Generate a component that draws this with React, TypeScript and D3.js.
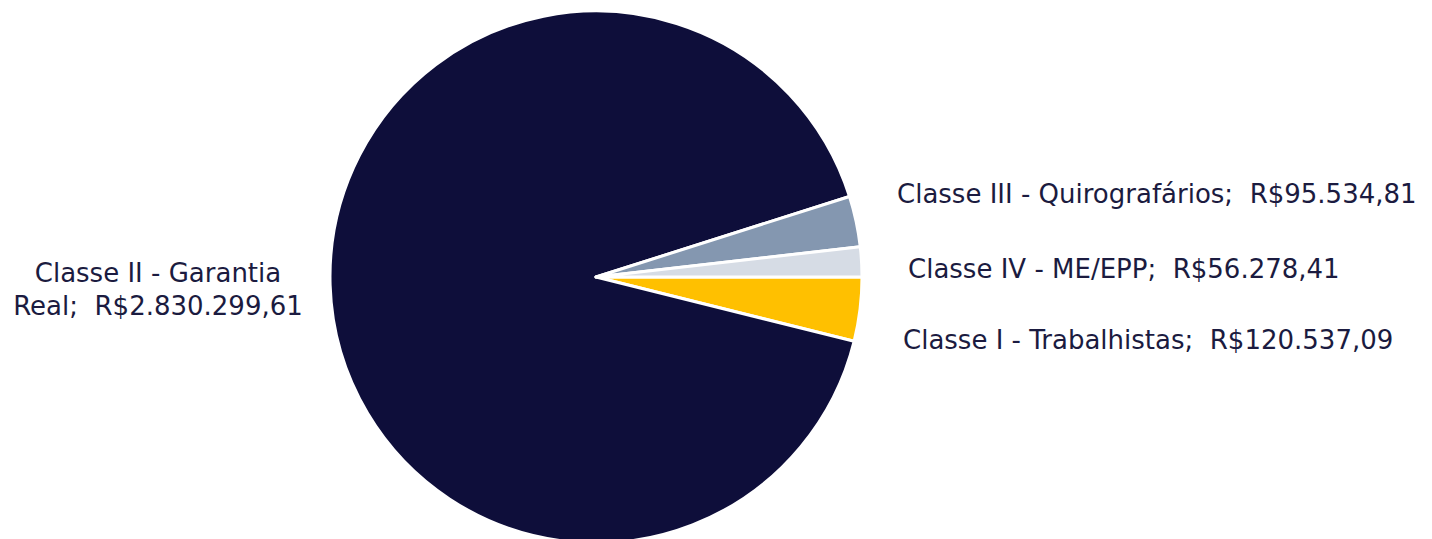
import * as React from 'react';
import * as d3 from 'd3';

const categories = [
  'Classe I - Trabalhistas',
  'Classe II - Garantia Real',
  'Classe III - Quirografários',
  'Classe IV - ME/EPP',
];
const values = [120537.09, 2830299.61, 95534.81, 56278.41];
const valueLabels = ['R$120.537,09', 'R$2.830.299,61', 'R$95.534,81', 'R$56.278,41'];
const colors = ['#FFC000', '#0E0E3A', '#8497B0', '#D6DCE5'];

// label lines: [text lines], x anchor, first baseline, anchor
const labelLayout = [
  { lines: [`${categories[0]};  ${valueLabels[0]}`], x: 903, y: 349, anchor: 'start' },
  { lines: ['Classe II - Garantia', `Real;  ${valueLabels[1]}`], x: 158, y: 282, anchor: 'middle' },
  { lines: [`${categories[2]};  ${valueLabels[2]}`], x: 897, y: 203, anchor: 'start' },
  { lines: [`${categories[3]};  ${valueLabels[3]}`], x: 908, y: 278, anchor: 'start' },
];

export default function App() {
  const width = 1432;
  const height = 539;
  const cx = 596;
  const cy = 277;
  const radius = 266;

  const pie = d3
    .pie<number>()
    .sort(null)
    .startAngle(Math.PI / 2)
    .endAngle(Math.PI / 2 + 2 * Math.PI);
  const arcs = pie(values);
  const arc = d3.arc<d3.PieArcDatum<number>>().innerRadius(0).outerRadius(radius);

  return (
    <svg
      width={width}
      height={height}
      style={{ position: 'absolute', left: 0, top: 0, background: '#fff' }}
    >
      <g transform={`translate(${cx},${cy})`}>
        {arcs.map((a, i) => (
          <path
            key={categories[i]}
            d={arc(a) || ''}
            fill={colors[i]}
            stroke="#fff"
            strokeWidth={3}
            strokeLinejoin="round"
          />
        ))}
      </g>
      {labelLayout.map((l, i) => (
        <text
          key={i}
          x={l.x}
          y={l.y}
          textAnchor={l.anchor as any}
          fill="#1B1B40"
          fontFamily="'DejaVu Sans', sans-serif"
          fontSize={26}
          style={{ whiteSpace: 'pre' }}
        >
          {l.lines.map((t, j) => (
            <tspan key={j} x={l.x} dy={j === 0 ? 0 : 33}>
              {t}
            </tspan>
          ))}
        </text>
      ))}
    </svg>
  );
}
